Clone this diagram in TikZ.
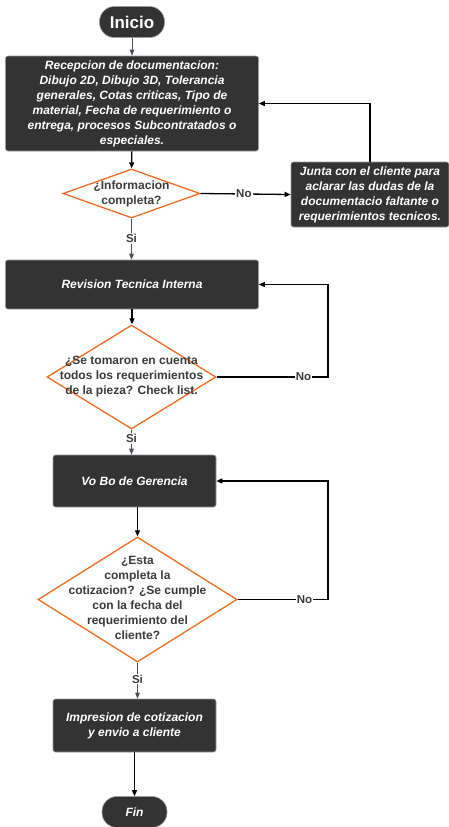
\documentclass[tikz,border=0pt]{standalone}
\usepackage{fontspec}
\setmainfont{Liberation Sans}
\usetikzlibrary{shapes.geometric,arrows.meta,positioning}
\definecolor{boxgray}{HTML}{333333}
\definecolor{rimgray}{HTML}{9A9A9A}
\definecolor{decorange}{HTML}{F26B22}
\definecolor{txtgray}{HTML}{3A3A3A}
\definecolor{linegray}{HTML}{4A4F55}
\tikzset{
    proc/.style={draw=rimgray, line width=0.6pt, fill=boxgray, rounded corners=2.5pt,
                 text=white, align=center, inner sep=2pt,
                 font=\fontsize{12}{15}\selectfont\bfseries\itshape},
    term/.style={proc, rounded corners=15pt, minimum width=65pt, minimum height=31pt},
    dec/.style={diamond, draw=decorange, line width=1.3pt, fill=white, inner sep=0pt},
    dectext/.style={align=center, text=txtgray, font=\fontsize{12}{15}\selectfont\bfseries},
    ans/.style={fill=white, text=txtgray, inner sep=1pt, font=\fontsize{11.5}{13}\selectfont\bfseries},
    flow/.style={line width=1.3pt, -{Triangle[length=6pt,width=5pt]}},
    thinflow/.style={line width=0.9pt, draw=linegray, -{Triangle[length=6pt,width=4.5pt]}}
}
\begin{document}
\begin{tikzpicture}[x=1pt,y=-1pt]
    \useasboundingbox (0,0) rectangle (449,827);

    % terminals and steps
    \node[term, font=\fontsize{17}{20}\selectfont\bfseries] (inicio) at (132,22) {Inicio};
    \node[proc, minimum width=253pt, minimum height=95pt] (recep) at (132,103.5)
        {Recepcion de documentacion:\\ Dibujo 2D, Dibujo 3D, Tolerancia\\ generales, Cotas criticas, Tipo de\\
         material, Fecha de requerimiento o\\ entrega, procesos Subcontratados o\\ especiales.};
    \node[proc, minimum width=158pt, minimum height=65pt] (junta) at (370,194.5)
        {Junta con el cliente para\\ aclarar las dudas de la\\ documentacio faltante o\\ requerimientos tecnicos.};
    \node[proc, minimum width=253pt, minimum height=49pt] (revision) at (132,284.5) {Revision Tecnica Interna};
    \node[proc, minimum width=163pt, minimum height=52pt] (vobo) at (134.5,481) {Vo Bo de Gerencia};
    \node[proc, minimum width=163pt, minimum height=53pt] (impresion) at (134.5,725.5)
        {Impresion de cotizacion\\ y envio a cliente};
    \node[term] (fin) at (134.5,812) {Fin};

    % decisions
    \node[dec, minimum width=137pt, minimum height=49pt,
          label={[dectext]center:¿Informacion\\ completa?}] (info) at (131.5,193.5) {};
    \node[dec, minimum width=169pt, minimum height=104pt,
          label={[dectext]center:¿Se tomaron en cuenta\\ todos los requerimientos\\ de la pieza? Check list.}] (check) at (131.5,377) {};
    \node[dec, minimum width=199pt, minimum height=125pt,
          label={[dectext, yshift=2pt]center:¿Esta\\ completa la\\ cotizacion? ¿Se cumple\\ con la fecha del\\ requerimiento del\\ cliente?}] (fecha) at (137.5,599.5) {};

    \coordinate (retA) at (328,377);
    \coordinate (retB) at (328,599.5);

    % connectors
    \draw[thinflow, line width=0.6pt] (inicio) -- (recep);
    \draw[flow] (recep) -- (info);
    \draw[flow] (info.east) -- node[ans, pos=0.48] {No} (junta.west);
    \draw[flow] (junta.north) |- (recep.east);
    \draw[thinflow] (info.south) -- node[ans, pos=0.48] {Si} (info.south |- revision.north);
    \draw[flow] (revision) -- (revision.south |- check.north);
    \draw[flow] (check.east) -- node[ans, pos=0.78] {No} (retA) |- (revision.east);
    \draw[thinflow] (check.south) -- node[ans, pos=0.36] {Si} (check.south |- vobo.north);
    \draw[flow, line width=0.8pt] (vobo.south -| fecha.north) -- (fecha.north);
    \draw[flow] (fecha.east) -- node[ans, pos=0.74] {No} (retB) |- (vobo.east);
    \draw[thinflow] (fecha.south) -- node[ans, pos=0.46] {Si} (fecha.south |- impresion.north);
    \draw[flow] (impresion.south -| fin.north) -- (fin.north);
\end{tikzpicture}
\end{document}
